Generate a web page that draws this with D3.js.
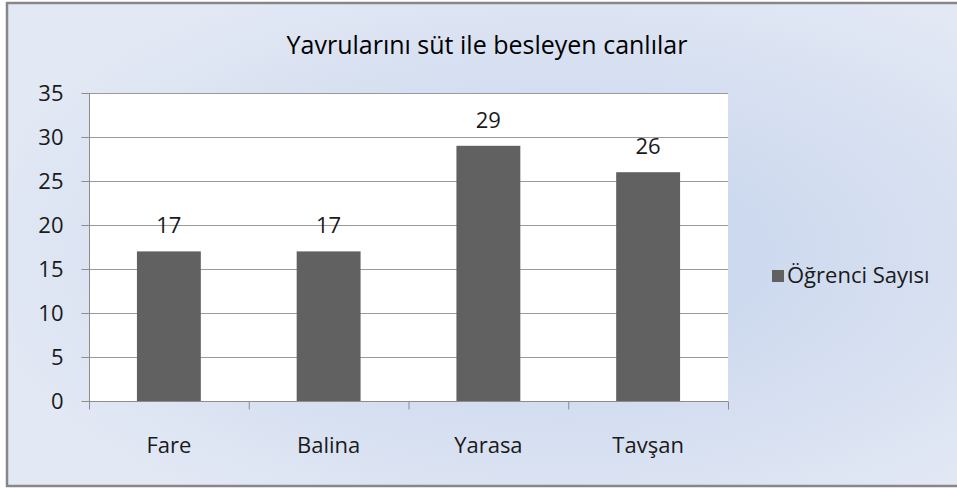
<!DOCTYPE html>
<html>
<head>
<meta charset="utf-8">
<script src="https://cdn.jsdelivr.net/npm/d3@7"></script>
<style>
  body { margin: 0; background: #fff; }
  svg { display: block; font-family: "Open Sans", Lato, sans-serif; }
</style>
</head>
<body>
<svg></svg>
<script>
const WIDTH = 957;
const HEIGHT = 488;

const title = 'Yavrularını süt ile besleyen canlılar';
const categories = ['Fare', 'Balina', 'Yarasa', 'Tavşan'];
const values = [17, 17, 29, 26];
const seriesName = 'Öğrenci Sayısı';
const yTicks = [0, 5, 10, 15, 20, 25, 30, 35];

const svg = d3.select('svg').attr('width', WIDTH).attr('height', HEIGHT);

// background gradient, like the office chart area
const defs = svg.append('defs');
const grad = defs.append('radialGradient')
  .attr('id', 'bg')
  .attr('cx', '58%').attr('cy', '52%').attr('r', '62%');
grad.append('stop').attr('offset', '0%').attr('stop-color', '#c3d2ec');
grad.append('stop').attr('offset', '100%').attr('stop-color', '#e2e8f4');

svg.append('rect')
  .attr('x', 7).attr('y', 3)
  .attr('width', WIDTH).attr('height', 483)
  .attr('fill', 'url(#bg)');

// frame (left, top, bottom edges are visible)
svg.append('path')
  .attr('d', `M${WIDTH},3 H7 V486 H${WIDTH}`)
  .attr('fill', 'none')
  .attr('stroke', '#878787')
  .attr('stroke-width', 2.5);

const plot = { left: 89, right: 728, top: 93, bottom: 401 };

const x = d3.scaleBand()
  .domain(categories)
  .range([plot.left, plot.right])
  .paddingInner(0.6)
  .paddingOuter(0.3);

const y = d3.scaleLinear()
  .domain([0, 35])
  .range([plot.bottom, plot.top]);

// plot area
svg.append('rect')
  .attr('x', plot.left).attr('y', plot.top)
  .attr('width', plot.right - plot.left)
  .attr('height', plot.bottom - plot.top)
  .attr('fill', '#fff');

// gridlines
svg.append('g')
  .selectAll('line')
  .data(yTicks.filter(d => d > 0))
  .join('line')
  .attr('x1', plot.left).attr('x2', plot.right)
  .attr('y1', d => y(d) + 0.5).attr('y2', d => y(d) + 0.5)
  .attr('stroke', '#9a9a9a')
  .attr('stroke-width', 1);

// bars
svg.append('g')
  .selectAll('rect')
  .data(values)
  .join('rect')
  .attr('x', (d, i) => x(categories[i]))
  .attr('y', d => y(d))
  .attr('width', x.bandwidth())
  .attr('height', d => y(0) - y(d))
  .attr('fill', '#616161');

// value labels
svg.append('g')
  .selectAll('text')
  .data(values)
  .join('text')
  .attr('x', (d, i) => x(categories[i]) + x.bandwidth() / 2)
  .attr('y', d => y(d) - 18)
  .attr('text-anchor', 'middle')
  .attr('font-size', 22)
  .attr('fill', '#1a1a1a')
  .text(d => d);

// y axis
const yAxis = svg.append('g')
  .attr('transform', `translate(${plot.left + 0.5},0)`)
  .call(d3.axisLeft(y).tickValues(yTicks).tickSize(8).tickPadding(18));
yAxis.select('.domain').attr('stroke', '#8c8c8c').attr('d', `M0,${plot.top}V${plot.bottom}`);
yAxis.selectAll('.tick line').attr('stroke', '#8c8c8c');
yAxis.selectAll('.tick text')
  .attr('font-size', 22)
  .attr('font-family', '"Open Sans", Lato, sans-serif')
  .attr('fill', '#1a1a1a');

// x axis with tick marks between categories
const xEdge = d3.scalePoint()
  .domain(d3.range(categories.length + 1))
  .range([plot.left, plot.right]);

const xAxis = svg.append('g')
  .attr('transform', `translate(0,${plot.bottom + 0.5})`);
xAxis.append('line')
  .attr('x1', plot.left).attr('x2', plot.right)
  .attr('stroke', '#8c8c8c');
xAxis.selectAll('.edge')
  .data(xEdge.domain())
  .join('line')
  .attr('class', 'edge')
  .attr('x1', d => xEdge(d) + 0.5).attr('x2', d => xEdge(d) + 0.5)
  .attr('y1', 0).attr('y2', 8)
  .attr('stroke', '#8c8c8c');
xAxis.selectAll('text')
  .data(categories)
  .join('text')
  .attr('x', d => x(d) + x.bandwidth() / 2)
  .attr('y', 51)
  .attr('text-anchor', 'middle')
  .attr('font-size', 22)
  .attr('fill', '#1a1a1a')
  .text(d => d);

// title
svg.append('text')
  .attr('x', 487)
  .attr('y', 54)
  .attr('text-anchor', 'middle')
  .attr('font-size', 25)
  .attr('fill', '#000')
  .text(title);

// legend
const legend = svg.append('g').attr('transform', 'translate(772,270)');
legend.append('rect')
  .attr('width', 12).attr('height', 12)
  .attr('fill', '#616161');
legend.append('text')
  .attr('x', 15).attr('y', 13)
  .attr('font-size', 22)
  .attr('fill', '#1a1a1a')
  .text(seriesName);
</script>
</body>
</html>
